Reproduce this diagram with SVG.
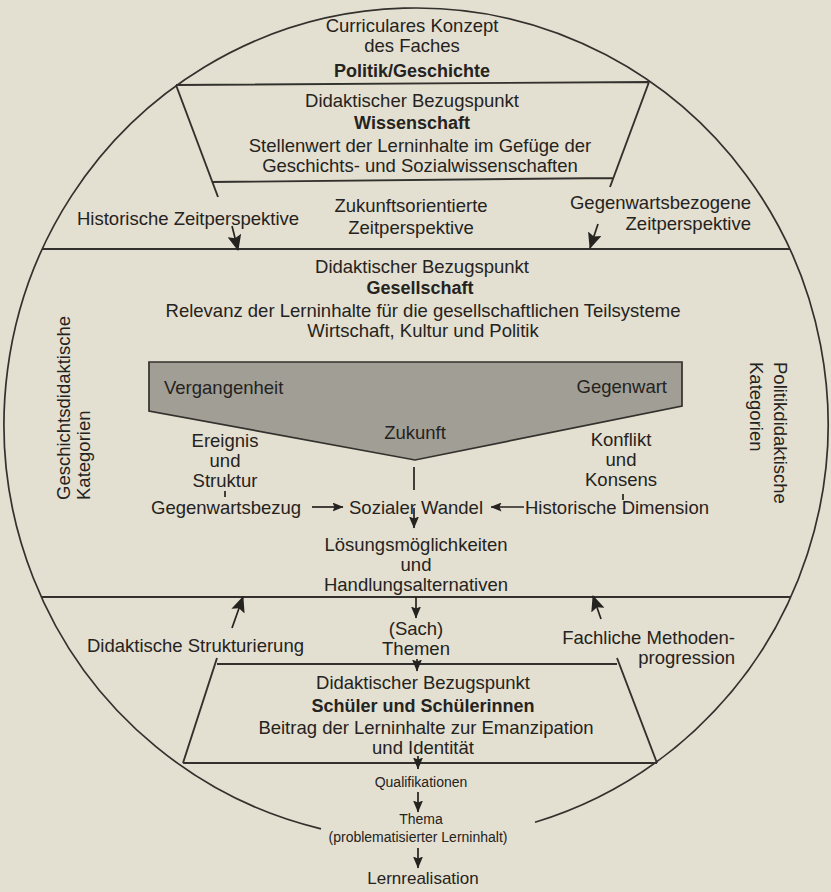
<svg xmlns="http://www.w3.org/2000/svg" width="831" height="892" viewBox="0 0 831 892">
<defs>
<style>
text{font-family:"Liberation Sans",Arial,Helvetica,sans-serif;font-size:18.5px;fill:#252320}
.c{text-anchor:middle}
.e{text-anchor:end}
.b{font-weight:bold;font-size:18px}
.s{font-size:14px}
.ln{fill:none;stroke:#33312d;stroke-width:1.9}
.ar{fill:none;stroke:#252320;stroke-width:1.7}
</style>
<marker id="big" markerUnits="userSpaceOnUse" markerWidth="16" markerHeight="14" refX="15" refY="7" orient="auto" viewBox="0 0 16 14"><path d="M0,0 L16,7 L0,14 L3,7 z" fill="#252320"/></marker>
<marker id="med" markerUnits="userSpaceOnUse" markerWidth="12" markerHeight="10" refX="11.5" refY="5" orient="auto" viewBox="0 0 12 10"><path d="M0,0 L12,5 L0,10 L2,5 z" fill="#252320"/></marker>
<marker id="sm" markerUnits="userSpaceOnUse" markerWidth="11" markerHeight="9" refX="10.5" refY="4.5" orient="auto" viewBox="0 0 11 9"><path d="M0,0 L11,4.5 L0,9 L2,4.5 z" fill="#252320"/></marker>
</defs>
<rect width="831" height="892" fill="#e3dfd1"/>

<g id="outline">
<path class="ln" d="M321 828.8 A412 416 0 1 1 535 822.3" style="stroke-width:1.7"/>
<line class="ln" x1="42" y1="249" x2="790" y2="249"/>
<line class="ln" x1="41" y1="597" x2="791" y2="597"/>
</g>

<g id="konzept">
<text class="c" x="412" y="31.5">Curriculares Konzept</text>
<text class="c" x="412" y="51.5">des Faches</text>
<text class="c b" x="412" y="76.5">Politik/Geschichte</text>
</g>

<g id="wissenschaft">
<path class="ln" d="M176 85 L649 82 M176 85 L218 197 M649 82 L610 187 M212 182 L613 178"/>
<text class="c" x="412" y="106.5">Didaktischer Bezugspunkt</text>
<text class="c b" x="412" y="128.5">Wissenschaft</text>
<text class="c" x="420" y="151.5">Stellenwert der Lerninhalte im Gefüge der</text>
<text class="c" x="420" y="171.5">Geschichts- und Sozialwissenschaften</text>
</g>

<g id="zeitperspektiven">
<text x="77" y="224.5">Historische Zeitperspektive</text>
<text class="c" x="411" y="211.5">Zukunftsorientierte</text>
<text class="c" x="411" y="233.5">Zeitperspektive</text>
<text class="e" x="751" y="208.5">Gegenwartsbezogene</text>
<text class="e" x="751" y="229.5">Zeitperspektive</text>
</g>

<g id="gesellschaft">
<text class="c" x="422" y="272.5">Didaktischer Bezugspunkt</text>
<text class="c b" x="420" y="293.5">Gesellschaft</text>
<text class="c" x="423" y="316.5">Relevanz der Lerninhalte für die gesellschaftlichen Teilsysteme</text>
<text class="c" x="423" y="336.5">Wirtschaft, Kultur und Politik</text>
</g>

<g id="geschichtsdidaktik">
<text transform="translate(69.5,500) rotate(-90)">Geschichtsdidaktische</text>
<text transform="translate(90,500) rotate(-90)">Kategorien</text>
</g>

<g id="politikdidaktik">
<text transform="translate(773.5,362) rotate(90)">Politikdidaktische</text>
<text transform="translate(750,362) rotate(90)">Kategorien</text>
</g>

<g id="zeitfilter">
<polygon points="149,362 682,362 682,406 415,460 149,411" fill="#a19e96" stroke="#33312d" stroke-width="1.7"/>
<text x="164" y="393.5">Vergangenheit</text>
<text class="e" x="667" y="392.5">Gegenwart</text>
<text class="c" x="415" y="438.5">Zukunft</text>
</g>

<g id="ereignis">
<text class="c" x="225" y="446.5">Ereignis</text>
<text class="c" x="225" y="466.5">und</text>
<text class="c" x="225" y="486.5">Struktur</text>
</g>

<g id="konflikt">
<text class="c" x="621" y="445.5">Konflikt</text>
<text class="c" x="621" y="465.5">und</text>
<text class="c" x="621" y="485.5">Konsens</text>
</g>

<g id="gegenwartsbezug">
<text x="151" y="513.5">Gegenwartsbezug</text>
</g>
<g id="sozialer-wandel">
<text x="349" y="513.5">Sozialer Wandel</text>
</g>
<g id="historische-dimension">
<text x="525" y="513.5">Historische Dimension</text>
</g>

<g id="loesungen">
<text class="c" x="416" y="551">Lösungsmöglichkeiten</text>
<text class="c" x="416" y="571">und</text>
<text class="c" x="416" y="591">Handlungsalternativen</text>
</g>

<g id="themen">
<text class="c" x="416" y="634.5">(Sach)</text>
<text class="c" x="416" y="654.5">Themen</text>
</g>
<g id="strukturierung">
<text x="87" y="651.5">Didaktische Strukturierung</text>
</g>
<g id="methodenprogression">
<text class="e" x="735" y="643.5">Fachliche Methoden-</text>
<text class="e" x="735" y="663.5">progression</text>
</g>

<g id="schueler">
<path class="ln" d="M217 664 L617 664 M217 658 L183 763 M617 658 L657 763 M183 763 L657 763"/>
<text class="c" x="423" y="688.5">Didaktischer Bezugspunkt</text>
<text class="c b" x="423" y="711.5">Schüler und Schülerinnen</text>
<text class="c" x="426" y="733.5">Beitrag der Lerninhalte zur Emanzipation</text>
<text class="c" x="423" y="753.5">und Identität</text>
</g>

<g id="qualifikationen">
<text class="c s" x="421" y="787">Qualifikationen</text>
</g>
<g id="thema">
<text class="c s" x="421" y="824">Thema</text>
<text class="c s" x="418" y="842">(problematisierter Lerninhalt)</text>
</g>
<g id="lernrealisation">
<text class="c" x="423" y="884" style="font-size:17px">Lernrealisation</text>
</g>

<g id="connectors">
<line class="ar" x1="232" y1="226" x2="238" y2="250" marker-end="url(#big)"/>
<line class="ar" x1="598" y1="224" x2="590" y2="248" marker-end="url(#big)"/>
<line class="ar" x1="232" y1="628" x2="243" y2="597" marker-end="url(#big)"/>
<line class="ar" x1="601" y1="619" x2="593" y2="596" marker-end="url(#big)"/>
<line class="ar" x1="414" y1="467" x2="414" y2="490"/>
<line class="ar" x1="414" y1="508" x2="414" y2="528" marker-end="url(#med)"/>
<line class="ar" x1="225" y1="491" x2="225" y2="497"/>
<line class="ar" x1="623" y1="494" x2="623" y2="500"/>
<line class="ar" x1="312" y1="507" x2="343" y2="507" marker-end="url(#sm)"/>
<line class="ar" x1="524" y1="507" x2="491" y2="507" marker-end="url(#sm)"/>
<line class="ar" x1="416" y1="597" x2="416" y2="618" marker-end="url(#med)"/>
<line class="ar" x1="417" y1="659" x2="417" y2="671" marker-end="url(#med)"/>
<line class="ar" x1="418" y1="756" x2="418" y2="769" marker-end="url(#med)"/>
<line class="ar" x1="418" y1="792" x2="418" y2="812" marker-end="url(#med)"/>
<line class="ar" x1="418" y1="848" x2="418" y2="868" marker-end="url(#med)"/>
</g>
</svg>
